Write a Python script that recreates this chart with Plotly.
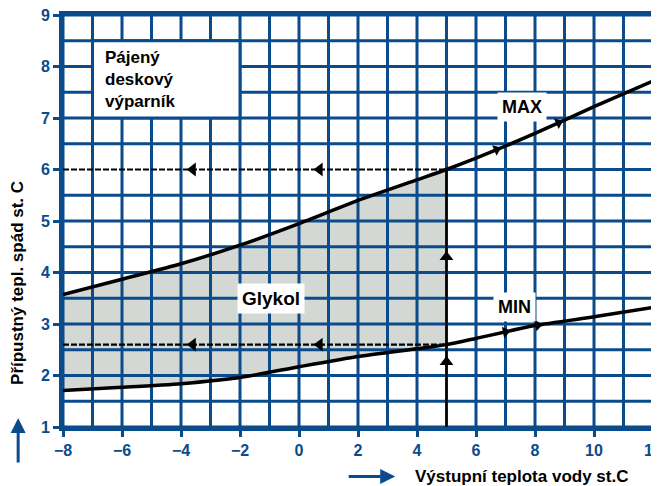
import numpy as np
import plotly.graph_objects as go

# ---- data ----
x_pts = [-8, -6, -4, -2, 0, 2, 4, 5, 6, 8, 10, 12]
max_vals = [3.57, 3.87, 4.17, 4.53, 4.95, 5.40, 5.80, 6.00, 6.22, 6.70, 7.22, 7.72]
min_vals = [1.71, 1.77, 1.84, 1.96, 2.17, 2.37, 2.52, 2.60, 2.72, 2.97, 3.14, 3.32]
op_x = 5          # example operating point (water outlet temperature)
op_max = 6.0      # allowed max delta at op_x
op_min = 2.6      # allowed min delta at op_x
x_ticks = [-8, -6, -4, -2, 0, 2, 4, 6, 8, 10, 12]
y_ticks = [1, 2, 3, 4, 5, 6, 7, 8, 9]
grid_x = list(range(-8, 13))
grid_y = [1 + 0.5 * i for i in range(17)]
dash_arrow_x = [-3.6, 0.7]
up_arrow_y = [4.3, 2.26]
max_arrow_x = [6.7, 8.8]
min_arrow_x = [7.0, 8.1]

BLUE = "#0a4b8c"
FILL = "#d3d8d4"
FONT = "Liberation Sans"

fig = go.Figure()

# shaded glycol region (between MIN and MAX up to op_x)
n = x_pts.index(op_x) + 1
fig.add_trace(go.Scatter(x=x_pts[:n], y=min_vals[:n], mode="lines",
                         line=dict(width=0, shape="spline", smoothing=0.6),
                         hoverinfo="skip", showlegend=False))
fig.add_trace(go.Scatter(x=x_pts[:n], y=max_vals[:n], mode="lines", fill="tonexty",
                         fillcolor=FILL, line=dict(width=0, shape="spline", smoothing=0.6),
                         hoverinfo="skip", showlegend=False))

# grid lines (drawn over the fill)
gx, gy = [], []
for yv in grid_y:
    x0 = op_x if abs(yv - op_max) < 1e-9 else grid_x[0]
    gx += [x0, grid_x[-1], None]
    gy += [yv, yv, None]
for xv in grid_x:
    gx += [xv, xv, None]
    gy += [grid_y[0], grid_y[-1], None]
fig.add_trace(go.Scatter(x=gx, y=gy, mode="lines", line=dict(color=BLUE, width=3),
                         hoverinfo="skip", showlegend=False))

# dashed guide lines
for yv in (op_max, op_min):
    fig.add_trace(go.Scatter(x=[grid_x[0], op_x], y=[yv, yv], mode="lines",
                             line=dict(color="black", width=2.2, dash="6px,2px"),
                             hoverinfo="skip", showlegend=False))
    fig.add_trace(go.Scatter(x=dash_arrow_x, y=[yv] * len(dash_arrow_x), mode="markers",
                             marker=dict(symbol="triangle-left", size=12, color="black"),
                             hoverinfo="skip", showlegend=False))
# vertical line at operating point
fig.add_trace(go.Scatter(x=[op_x, op_x], y=[grid_y[0], op_max], mode="lines",
                         line=dict(color="black", width=2.2),
                         hoverinfo="skip", showlegend=False))
fig.add_trace(go.Scatter(x=[op_x] * len(up_arrow_y), y=up_arrow_y, mode="markers",
                         marker=dict(symbol="triangle-up", size=12, color="black"),
                         hoverinfo="skip", showlegend=False))

# curves
px_per_x = 590 / 20
px_per_y = 412 / 8
for vals, arr_x in ((max_vals, max_arrow_x), (min_vals, min_arrow_x)):
    fig.add_trace(go.Scatter(x=x_pts, y=vals, mode="lines",
                             line=dict(color="black", width=3.5, shape="spline", smoothing=0.6),
                             hoverinfo="skip", showlegend=False))
    ay = np.interp(arr_x, x_pts, vals)
    slope = np.gradient(vals, x_pts)
    sl = np.interp(arr_x, x_pts, slope)
    ang = [-float(np.degrees(np.arctan(s * px_per_y / px_per_x))) for s in sl]
    fig.add_trace(go.Scatter(x=arr_x, y=ay, mode="markers",
                             marker=dict(symbol="triangle-right", size=10, color="black", angle=ang),
                             hoverinfo="skip", showlegend=False))

# box for evaporator label
fig.add_shape(type="rect", x0=-7, x1=-2, y0=7, y1=8.5, layer="above",
              fillcolor="white", line=dict(color=BLUE, width=3))

lbl = dict(family=FONT, size=17, color="black", weight="bold")
fig.add_annotation(x=-6.64, y=7.74, text="Pájený<br>deskový<br>výparník", showarrow=False,
                   xanchor="left", yanchor="middle", align="left", font=lbl)
fig.add_annotation(x=-0.95, y=3.49, text="Glykol", showarrow=False, bgcolor="white",
                   borderpad=4, font=dict(family=FONT, size=19, color="black", weight="bold"))
fig.add_annotation(x=7.56, y=7.21, text="MAX", showarrow=False, bgcolor="white",
                   borderpad=4, font=dict(family=FONT, size=18, color="black", weight="bold"))
fig.add_annotation(x=7.32, y=3.33, text="MIN", showarrow=False, bgcolor="white",
                   borderpad=4, font=dict(family=FONT, size=18, color="black", weight="bold"))

# axis titles with arrows
fig.add_annotation(xref="paper", yref="paper", x=-0.076, y=0.35, textangle=-90,
                   text="Přípustný tepl. spád st. C", showarrow=False,
                   xanchor="center", yanchor="middle", font=lbl)
fig.add_annotation(xref="paper", yref="paper", x=-0.076, y=0.022, ax=0, ay=46,
                   text="", showarrow=True, arrowhead=2, arrowsize=1, arrowwidth=3,
                   arrowcolor=BLUE)
fig.add_annotation(xref="paper", yref="paper", x=0.593, y=-0.12,
                   text="Výstupní teplota vody st.C", showarrow=False,
                   xanchor="left", yanchor="middle", font=lbl)
fig.add_annotation(xref="paper", yref="paper", x=0.563, y=-0.12, ax=-48, ay=0,
                   text="", showarrow=True, arrowhead=2, arrowsize=1, arrowwidth=3,
                   arrowcolor=BLUE)

tickfont = dict(family=FONT, size=16, color=BLUE, weight="bold")
fig.update_xaxes(range=[-8, 12], tickvals=x_ticks, showgrid=False, zeroline=False,
                 showline=True, mirror=True, linecolor=BLUE, linewidth=4,
                 ticks="outside", ticklen=6, tickwidth=3, tickcolor=BLUE,
                 tickfont=tickfont, tickformat="d", automargin=False,
                 ticklabeloverflow="allow")
fig.update_yaxes(range=[1, 9], tickvals=y_ticks, showgrid=False, zeroline=False,
                 showline=True, mirror=True, linecolor=BLUE, linewidth=4,
                 ticks="outside", ticklen=6, tickwidth=3, tickcolor=BLUE,
                 tickfont=tickfont, automargin=False, ticklabeloverflow="allow")
# page body has an 8px margin, so the figure is sized to fit the 659x486 window
fig.update_layout(width=651, height=478, margin=dict(l=55, r=6, t=7, b=59),
                  plot_bgcolor="white", paper_bgcolor="white", showlegend=False)

fig.write_html("out.html")
